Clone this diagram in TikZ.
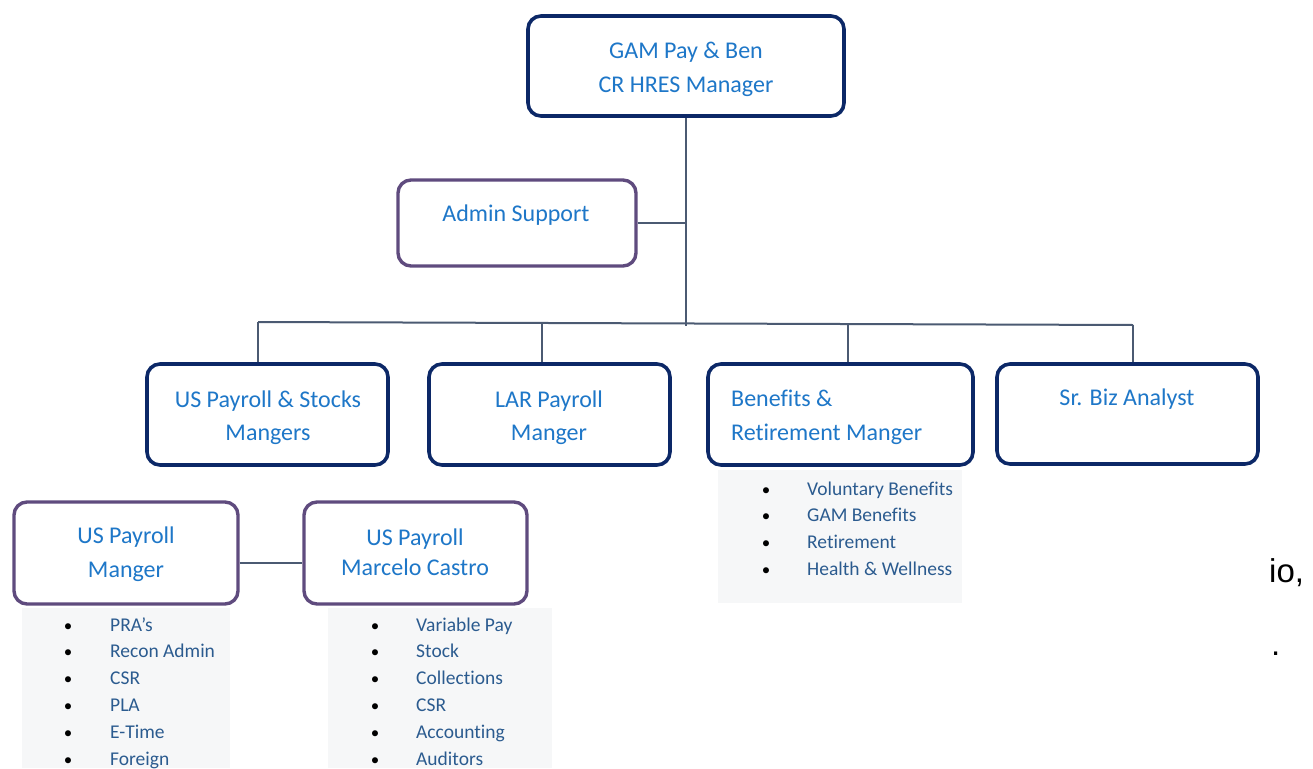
\documentclass[tikz,border=0pt]{standalone}
\usepackage{fontspec}
\setmainfont{Carlito}[Ligatures=CommonOff]
\newfontfamily\fragfont{Liberation Sans}
\definecolor{navy}{HTML}{0C2867}
\definecolor{plum}{HTML}{5F4B7E}
\definecolor{wire}{HTML}{4B5A72}
\definecolor{titleblue}{HTML}{1E77C8}
\definecolor{itemblue}{HTML}{2B5B8F}
\definecolor{listbg}{HTML}{F6F7F8}

\begin{document}
\begin{tikzpicture}[x=1pt,y=-1pt,
  box/.style={draw=navy,line width=3.6pt,rounded corners=13pt,fill=white,inner sep=0pt},
  pbox/.style={box,draw=plum,line width=3.4pt},
  ttl/.style={text=titleblue,font=\fontsize{24}{33.5}\selectfont,inner sep=0pt,align=center},
  wirestyle/.style={draw=wire,line width=2pt},
  panel/.style={fill=listbg,draw=none,inner sep=0pt,anchor=north west},
  item/.style={text=itemblue,font=\fontsize{19.5}{24}\selectfont,anchor=base west,inner sep=0pt},
  dot/.style={font=\fontsize{17}{20}\selectfont,anchor=base,inner sep=0pt}
]
\useasboundingbox (0,0) rectangle (1313,768);

% light panels behind the duty lists
\node[panel,minimum width=244pt,minimum height=133pt] (benpanel) at (718,470) {};
\node[panel,minimum width=208pt,minimum height=160pt] (leftpanel) at (22,608) {};
\node[panel,minimum width=224pt,minimum height=160pt] (rightpanel) at (328,608) {};

% role boxes
\node[box,minimum width=316pt,minimum height=100pt] (top) at (686,66) {};
\node[pbox,minimum width=238pt,minimum height=86pt] (admin) at (517,223) {};
\node[box,minimum width=241pt,minimum height=101pt] (usp) at (267.5,414.5) {};
\node[box,minimum width=241pt,minimum height=101pt] (lar) at (549.5,414.5) {};
\node[box,minimum width=265pt,minimum height=101pt] (ben) at (840.5,414.5) {};
\node[box,minimum width=261pt,minimum height=100pt] (biz) at (1127.5,414) {};
\node[pbox,minimum width=224pt,minimum height=102pt] (upm) at (126,553) {};
\node[pbox,minimum width=223pt,minimum height=102pt] (mc) at (415.5,553) {};

% titles
\node[ttl] (topt) at (686,69.5) {GAM Pay \& Ben\\CR HRES Manager};
\node[ttl] (admint) at (516,215) {Admin Support};
\node[ttl] (uspt) at (268,417.5) {US Payroll \& Stocks\\Mangers};
\node[ttl] (lart) at (549,417.5) {LAR Payroll\\Manger};
\node[ttl,align=left,anchor=west] (bent) at (731,417.5) {Benefits \&\\Retirement Manger};
\node[ttl] (bizt) at (1127,399) {Sr. Biz Analyst};
\node[ttl] (upmt) at (126,554) {US Payroll\\Manger};
\node[ttl,font=\fontsize{24}{30.5}\selectfont] (mct) at (415,552) {US Payroll\\Marcelo Castro};

% connectors
\coordinate (jl) at (258,322);
\coordinate (jr) at (1133,325);
\coordinate (j2) at (542,323);
\coordinate (j3) at (848,324.1);
\coordinate (hub) at (686,326);
\draw[wirestyle] (top.south) -- (hub);
\draw[wirestyle] (admin.east) -- (admin.east -| top.south);
\draw[wirestyle] (jl) -- (jr);
\draw[wirestyle] (jl) -- (jl |- usp.north);
\draw[wirestyle] (j2) -- (j2 |- lar.north);
\draw[wirestyle] (j3) -- (j3 |- ben.north);
\draw[wirestyle] (jr) -- (jr |- biz.north);
\draw[wirestyle] ([yshift=-10pt]upm.east) -- ([yshift=-10pt]mc.west);

% duty lists
\foreach \t [count=\i] in {Voluntary Benefits, GAM Benefits, Retirement, Health \& Wellness} {
  \node[dot] (bd\i) at (766,{495+26.7*(\i-1)}) {•};
  \node[item] (bt\i) at (807,{495+26.7*(\i-1)}) {\t};
}
\foreach \t [count=\i] in {PRA’s, Recon Admin, CSR, PLA, E-Time, Foreign} {
  \node[dot] (ld\i) at (68,{631+26.8*(\i-1)}) {•};
  \node[item] (lt\i) at (110,{631+26.8*(\i-1)}) {\t};
}
\foreach \t [count=\i] in {Variable Pay, Stock, Collections, CSR, Accounting, Auditors} {
  \node[dot] (rd\i) at (375,{631+26.8*(\i-1)}) {•};
  \node[item] (rt\i) at (416,{631+26.8*(\i-1)}) {\t};
}

% text fragments at the right edge
\node[font=\fragfont\fontsize{33}{38}\selectfont,anchor=base west,inner sep=0pt] (frag1) at (1269,582) {io,};
\node[font=\fragfont\fontsize{33}{38}\selectfont,anchor=base west,inner sep=0pt] (frag2) at (1271,655) {.};
\end{tikzpicture}
\end{document}
